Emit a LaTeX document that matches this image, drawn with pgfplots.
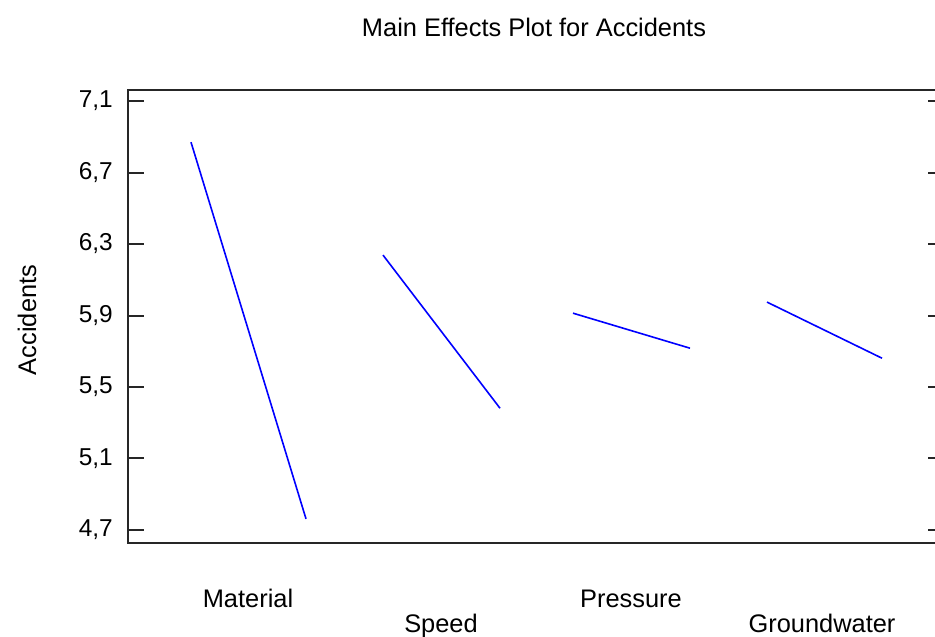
\documentclass[border=0pt]{standalone}
\usepackage{fontspec}
\setmainfont{Liberation Sans}
\usepackage{pgfplots}
\pgfplotsset{compat=1.18}
\begin{document}
\fontsize{25.5}{30}\selectfont
\begin{tikzpicture}[x=1bp,y=1bp]
\begin{axis}[
  at={(128bp,94bp)}, anchor=south west, scale only axis,
  width=816bp, height=453bp,
  xmin=128, xmax=944, ymin=4.627, ymax=7.162,
  xtick=\empty,
  ytick={4.7,5.1,5.5,5.9,6.3,6.7,7.1},
  ytick pos=both, yticklabel pos=left,
  tick align=inside, major tick length=16bp,
  /pgf/number format/.cd, use comma, fixed, fixed zerofill, precision=1, assume math mode=true,
  /pgfplots/.cd,
  yticklabel style={anchor=east, inner sep=0pt, xshift=-15bp, font=\fontsize{24.5}{28}\selectfont},
  axis line style={line width=2bp, black!85},
  major tick style={line width=2bp, black!85},
  clip=false
]
\addplot[blue, line width=1.6bp] coordinates {(191,6.870) (306,4.762)};
\addplot[blue, line width=1.6bp] coordinates {(383,6.238) (500,5.381)};
\addplot[blue, line width=1.6bp] coordinates {(573,5.913) (690,5.717)};
\addplot[blue, line width=1.6bp] coordinates {(767,5.975) (882,5.661)};
\end{axis}
\node[anchor=base] at (534,600) {Main Effects Plot for Accidents};
\node[anchor=base] at (248,29) {Material};
\node[anchor=base] at (441,4) {Speed};
\node[anchor=base] at (631,29) {Pressure};
\node[anchor=base] at (822,4) {Groundwater};
\node[rotate=90] at (27,317) {Accidents};
\pgfresetboundingbox
\path (0,0) rectangle (935,637);
\end{tikzpicture}
\end{document}
